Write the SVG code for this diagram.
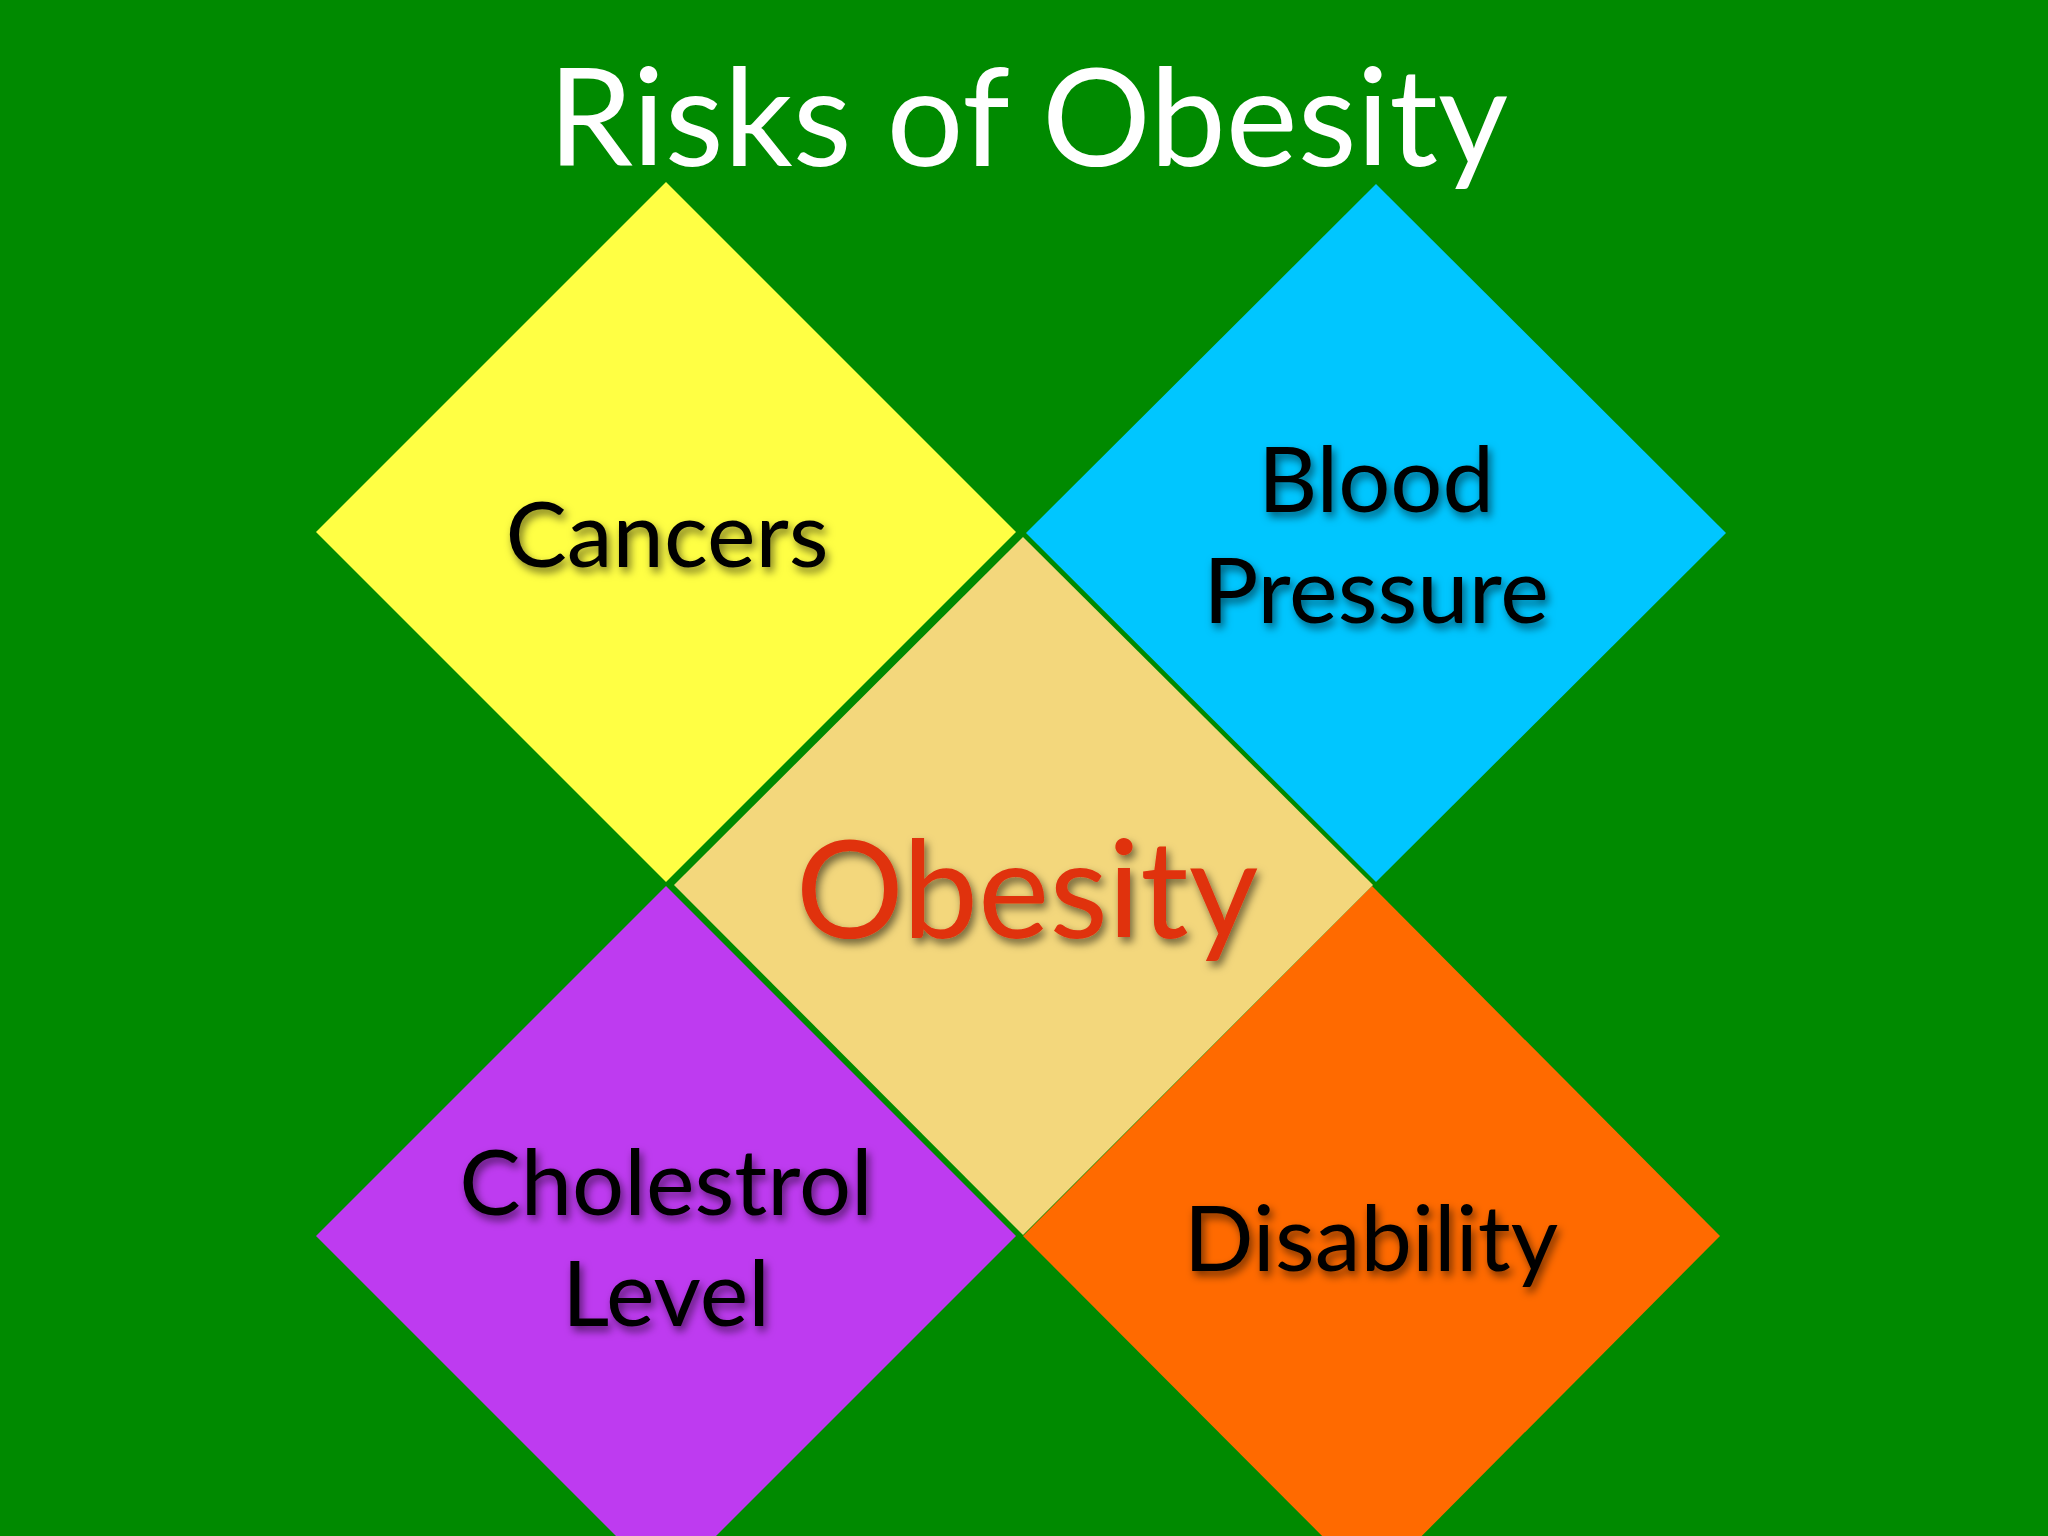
<svg xmlns="http://www.w3.org/2000/svg" width="2048" height="1536" viewBox="0 0 2048 1536">
  <style>
    .lbl { font-family: Lato, "Open Sans", "Liberation Sans", sans-serif; text-anchor: middle; }
    .risk { font-size: 92px; fill: #000; filter: url(#shadow); }
    .title { font-size: 136px; fill: #fff; }
    .center { font-size: 135px; fill: #E0300C; filter: url(#shadow); }
  </style>
  <defs>
    <filter id="shadow" x="-20%" y="-30%" width="140%" height="170%">
      <feDropShadow dx="3" dy="5" stdDeviation="4" flood-color="#000" flood-opacity="0.55"/>
    </filter>
  </defs>
  <rect width="2048" height="1536" fill="#008A00"/>
  <g id="title">
    <text class="lbl title" x="1028" y="166">Risks of Obesity</text>
  </g>
  <g id="cancers">
    <polygon points="666,182 1016,532 666,882 316,532" fill="#FFFF44"/>
    <text class="lbl risk" x="667" y="567">Cancers</text>
  </g>
  <g id="blood-pressure">
    <polygon points="1376,184 1726,533 1376,882 1026,533" fill="#00C6FF"/>
    <text class="lbl risk" x="1376" y="512">Blood</text>
    <text class="lbl risk" x="1376" y="623">Pressure</text>
  </g>
  <g id="cholestrol-level">
    <polygon points="666,886 1016,1236 666,1586 316,1236" fill="#BE3BF0"/>
    <text class="lbl risk" x="666" y="1215">Cholestrol</text>
    <text class="lbl risk" x="666" y="1326">Level</text>
  </g>
  <g id="disability">
    <polygon points="1372,886 1720,1236 1372,1586 1023,1236" fill="#FF6A00"/>
    <text class="lbl risk" x="1371" y="1271">Disability</text>
  </g>
  <g id="obesity">
    <polygon points="1023,537 1373,885 1023,1235 674,885" fill="#F3D77C"/>
    <text class="lbl center" x="1027" y="938">Obesity</text>
  </g>
  <g id="connectors"></g>
</svg>
